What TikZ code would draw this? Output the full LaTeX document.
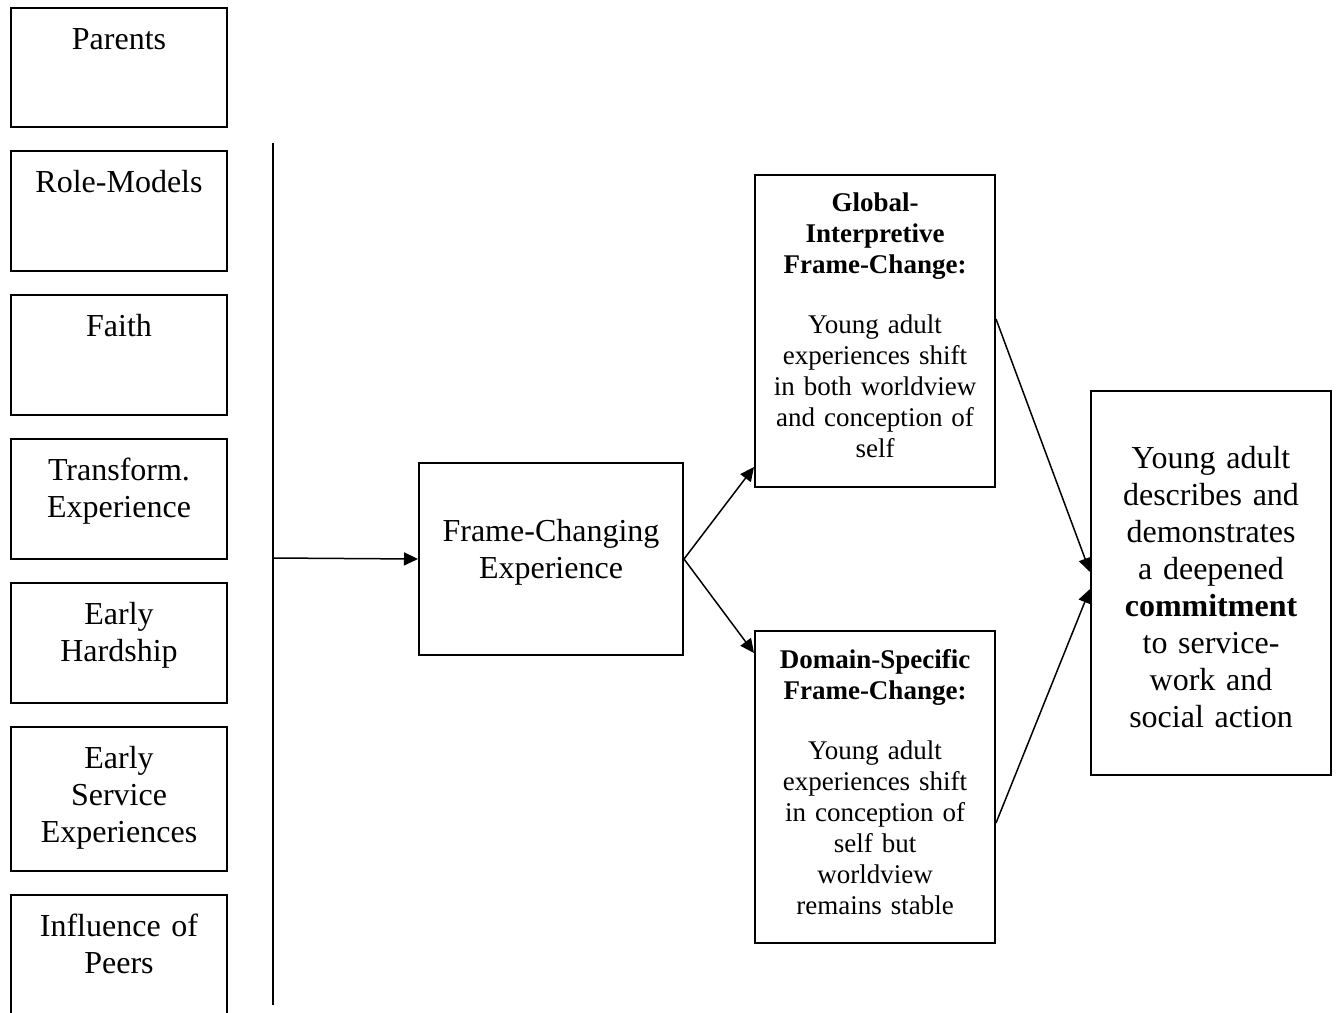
\documentclass[tikz,border=0pt]{standalone}
\usepackage{fontspec}
\setmainfont{Liberation Serif}
\usetikzlibrary{arrows.meta}

\tikzset{
  box/.style={draw, line width=1pt, anchor=north west, inner sep=0pt, align=center},
  big/.style={font=\fontsize{16}{18.5}\selectfont},
  small/.style={font=\fontsize{13.5}{15.5}\selectfont},
  leftbox/.style={box, big, text width=108pt, text height=20.5pt, text depth=39.5pt},
  link/.style={line width=0.75pt, -{Triangle[length=7pt,width=6.5pt]}}
}

\begin{document}
\begin{tikzpicture}[x=0.5pt, y=-0.5pt]
	\useasboundingbox (0,0) rectangle (1337,1012);
	% influences on the left
	\node[leftbox, text depth=39pt] (parents) at (10,7) {Parents};
	\node[leftbox] (rolemodels) at (10,150) {Role-Models};
	\node[leftbox] (faith) at (10,294) {Faith};
	\node[leftbox] (transform) at (10,438) {Transform.\\Experience};
	\node[leftbox] (hardship) at (10,582) {Early\\Hardship};
	\node[leftbox, text depth=51.5pt] (service) at (10,726) {Early\\Service\\Experiences};
	\node[leftbox, text depth=50pt] (peers) at (10,894) {Influence of\\Peers};
	% the bar that gathers them
	\coordinate (bartop) at (273,143);
	\coordinate (barbot) at (273,1005);
	\coordinate (barmid) at (273,558);
	\draw[line width=1pt] (bartop) -- (barbot);
	% middle and right column
	\node[box, big, text width=132pt, text height=39pt, text depth=57pt] (frame) at (418,462) {Frame-Changing\\Experience};
	\node[box, small, text width=120pt, text height=18pt, text depth=138pt] (global) at (754,174)
		{\textbf{Global-}\\\textbf{Interpretive}\\\textbf{Frame-Change:}\\[14.5pt]Young adult\\experiences shift\\in both worldview\\and conception of\\self};
	\node[box, small, text width=120pt, text height=18.5pt, text depth=137.5pt] (domain) at (754,630)
		{\textbf{Domain-Specific}\\\textbf{Frame-Change:}\\[14.5pt]Young adult\\experiences shift\\in conception of\\self but\\worldview\\remains stable};
	\node[box, big, text width=120pt, text height=38.8pt, text depth=153.2pt] (result) at (1090,390)
		{Young adult\\describes and\\demonstrates\\a deepened\\\textbf{commitment}\\to service-\\work and\\social action};
	% arrows
	\draw[link] (barmid) -- (frame.west);
	\draw[link] (frame.east) -- ([yshift=10.5pt]global.south west);
	\draw[link] (frame.east) -- ([yshift=-11.5pt]domain.north west);
	\draw[link] ([yshift=6pt]global.east) -- ([yshift=5.5pt]result.west);
	\draw[link] ([yshift=-18pt]domain.east) -- ([yshift=-3pt]result.west);
\end{tikzpicture}
\end{document}
